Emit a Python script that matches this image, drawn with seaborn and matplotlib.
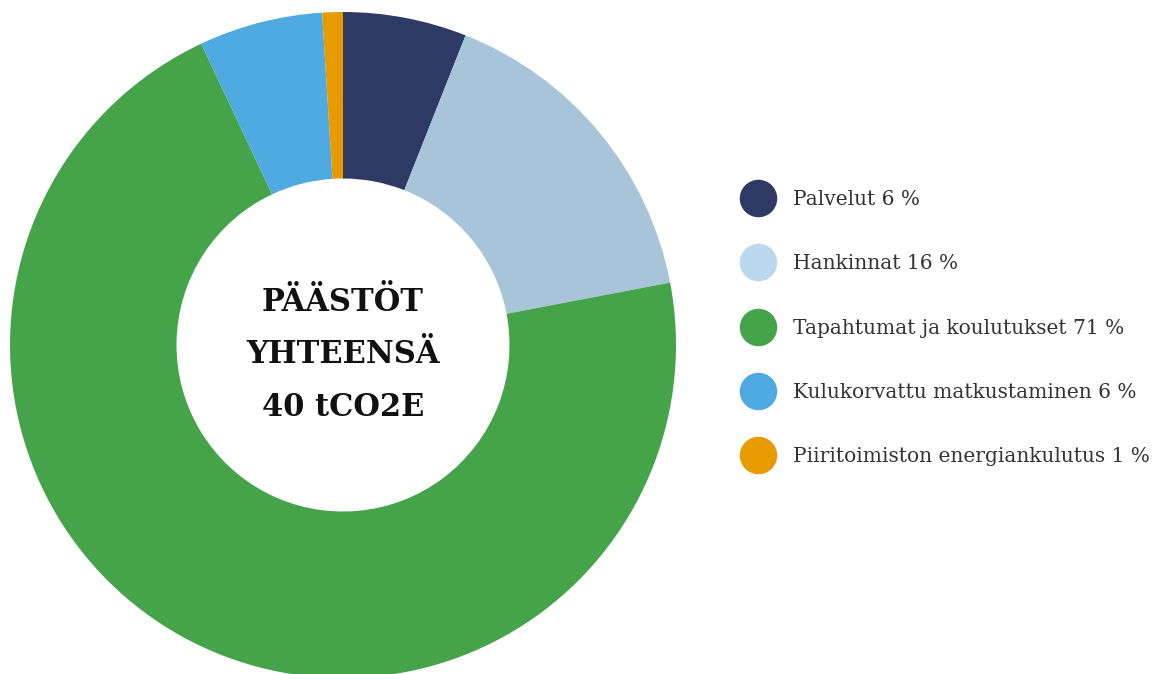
import matplotlib.pyplot as plt
from matplotlib.lines import Line2D
import seaborn as sns

sns.set_style("white")
plt.rcParams['font.family'] = ['DejaVu Serif']

# data
categories = ['Palvelut', 'Hankinnat', 'Tapahtumat ja koulutukset',
              'Kulukorvattu matkustaminen', 'Piiritoimiston energiankulutus']
shares = [6, 16, 71, 6, 1]
colors = ['#2D3A64', '#A8C4D8', '#45A34A', '#4FAAE2', '#E69C00']
legend_colors = ['#2D3A64', '#BCD8EC', '#45A34A', '#4FAAE2', '#E69C00']
center_text = 'PÄÄSTÖT\nYHTEENSÄ\n40 tCO2E'

W, H = 1164, 674
fig = plt.figure(figsize=(W / 100, H / 100), dpi=100)
ax = fig.add_axes([10 / W, -4 / H, 666 / W, 666 / H])

ax.pie(shares, colors=colors, startangle=90, counterclock=False,
       radius=1, wedgeprops=dict(width=0.5, linewidth=0))
ax.set_xlim(-1, 1)
ax.set_ylim(-1, 1)
ax.set_aspect('equal')
ax.axis('off')

ax.text(0, -0.03, center_text, ha='center', va='center', fontsize=22,
        fontweight='bold', color='#111111', linespacing=1.9)

handles = [Line2D([], [], marker='o', linestyle='none', markersize=27,
                  markerfacecolor=c, markeredgewidth=0) for c in legend_colors]
labels = [f'{c} {v} %' for c, v in zip(categories, shares)]
fig.legend(handles, labels, loc='upper left',
           bbox_to_anchor=(738 / W, 1 - 190 / H), frameon=False,
           fontsize=14.5, handlelength=2.0, handleheight=0.7,
           handletextpad=0.75, labelspacing=2.25, borderpad=0,
           borderaxespad=0, labelcolor='#333333')

fig.savefig('out.png', dpi=100)
